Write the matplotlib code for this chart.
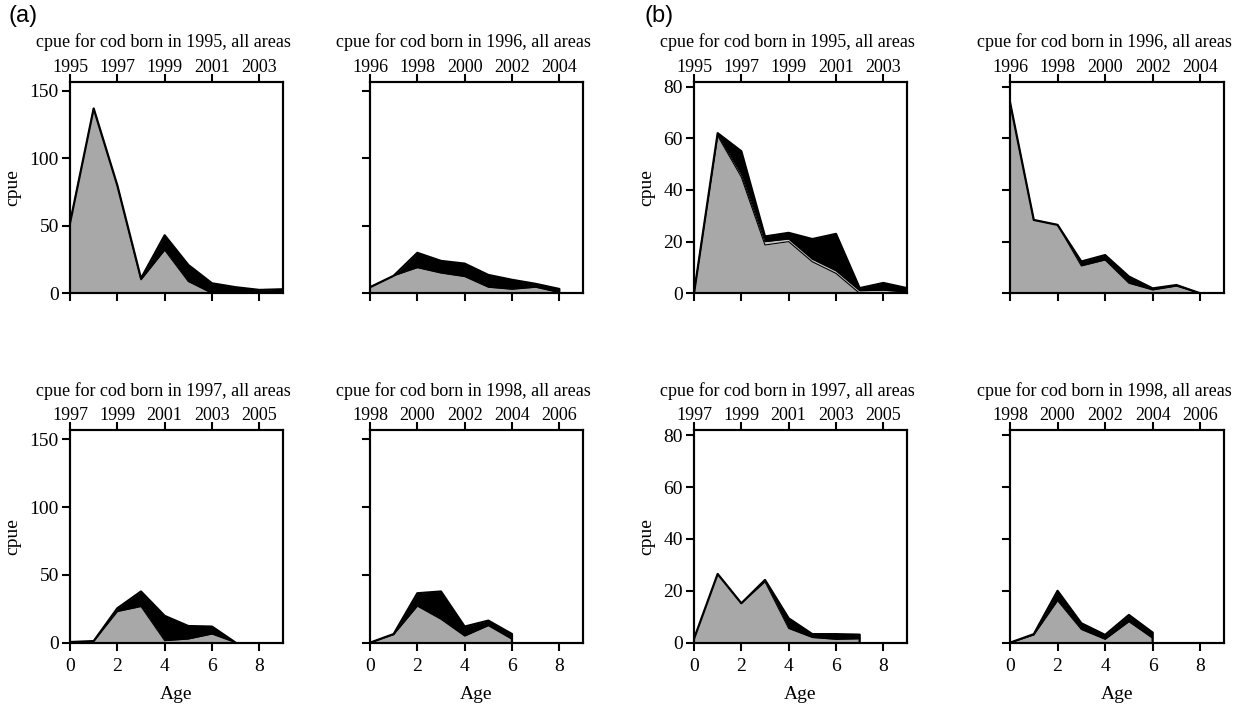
import numpy as np
import matplotlib.pyplot as plt

plt.rcParams['font.family'] = ['Liberation Serif', 'DejaVu Serif']
plt.rcParams['font.size'] = 13

ages = np.arange(10)

# (a) panels: grey layer top and total top, per birth year
a95_grey = [52, 137, 80, 10, 32, 8.7, 0, 0, 0, 0]
a95_total = [52, 137, 80, 11, 43, 21, 7.4, 4.5, 2.5, 3]
a96_grey = [4.5, 13, 19, 15, 12.4, 4.5, 3, 4.5, 0.5]
a96_total = [4.5, 13, 30, 24, 22, 13.6, 10, 7, 3.2]
a97_grey = [0.5, 1, 23, 26.7, 1.5, 2.7, 6.4, 0]
a97_total = [0.5, 1.2, 25.4, 37.8, 19.8, 12.3, 11.9, 0]
a98_grey = [0, 6, 27, 17.3, 4.9, 12.6, 2.5]
a98_total = [0, 6.4, 36.5, 37.8, 11.9, 16.3, 6.4]

# (b) panels
b95_grey = [0, 61, 45, 18.7, 20, 12.2, 7.7, 0, 0.3, 0]
b95_mid = [0, 61.5, 46, 20, 21, 13.2, 8.7, 1, 1.2, 0.5]
b95_total = [0, 62, 55, 22, 23.4, 21, 23, 2, 4, 2]
b96_grey = [74, 28.4, 26.5, 10.6, 12.9, 3.9, 1.3, 2.8, 0]
b96_total = [74, 28.4, 26.5, 12.3, 14.8, 6.5, 1.9, 3.2, 0]
b97_grey = [1.5, 26.5, 15.2, 23.5, 5.5, 2, 1.3, 1.5]
b97_total = [1.5, 26.5, 15.2, 24.2, 9.4, 3.3, 3.3, 3.1]
b98_grey = [0, 3, 16.2, 5.1, 1.3, 8.1, 1.7]
b98_total = [0, 3.3, 20, 7.5, 3, 10.7, 3.9]

W, H = 1246, 705
fig = plt.figure(figsize=(W / 100, H / 100), dpi=100)

cols = [(70, 283), (370, 583), (694, 907), (1010, 1224)]
rows = [(81.5, 293.3), (430, 642.7)]

panels = [
    # col, row, born, grey, mid, total, ymax, yticks
    (0, 0, 1995, a95_grey, None, a95_total, 157, [0, 50, 100, 150]),
    (1, 0, 1996, a96_grey, None, a96_total, 157, [0, 50, 100, 150]),
    (0, 1, 1997, a97_grey, None, a97_total, 157, [0, 50, 100, 150]),
    (1, 1, 1998, a98_grey, None, a98_total, 157, [0, 50, 100, 150]),
    (2, 0, 1995, b95_grey, b95_mid, b95_total, 82, [0, 20, 40, 60, 80]),
    (3, 0, 1996, b96_grey, None, b96_total, 82, [0, 20, 40, 60, 80]),
    (2, 1, 1997, b97_grey, None, b97_total, 82, [0, 20, 40, 60, 80]),
    (3, 1, 1998, b98_grey, None, b98_total, 82, [0, 20, 40, 60, 80]),
]

for c, r, born, grey, mid, total, ymax, yt in panels:
    l, rr = cols[c]
    t, b = rows[r]
    ax = fig.add_axes([l / W, 1 - b / H, (rr - l) / W, (b - t) / H])
    x = ages[:len(total)]
    ax.fill_between(x, 0, grey, color='#a8a8a8', lw=0)
    if mid is not None:
        ax.fill_between(x, grey, mid, color='#c4c4c4', lw=0)
        ax.fill_between(x, mid, total, color='black', lw=0)
        ax.plot(x, mid, color='black', lw=0.8)
    else:
        ax.fill_between(x, grey, total, color='black', lw=0)
    ax.plot(x, grey, color='black', lw=0.8)
    ax.plot(np.r_[x, x[-1]], np.r_[total, 0], color='black', lw=1.6)

    ax.set_xlim(0, 9)
    ax.set_ylim(0, ymax)
    ax.set_yticks(yt)
    ax.set_xticks([0, 2, 4, 6, 8])
    for s in ax.spines.values():
        s.set_linewidth(1.5)
    ax.tick_params(width=1.5, length=6, pad=2, direction='out', labelsize=14)
    ax.tick_params(axis='x', pad=5)
    if c in (1, 3):
        ax.set_yticklabels([])
    else:
        ax.set_ylabel('cpue', labelpad=6, fontsize=14)
    if r == 0:
        ax.set_xticklabels([])
    else:
        ax.set_xlabel('Age', labelpad=8, fontsize=14)

    ax2 = ax.twiny()
    ax2.set_xlim(0, 9)
    ax2.set_xticks([0, 2, 4, 6, 8])
    ax2.set_xticklabels([str(born + k) for k in [0, 2, 4, 6, 8]])
    ax2.tick_params(width=1.5, length=6, pad=-2, direction='out')
    for s in ax2.spines.values():
        s.set_linewidth(1.5)
    ax.text(0.44, 1.0 + 39 / (b - t), 'cpue for cod born in %d, all areas' % born,
            transform=ax.transAxes, ha='center', va='center')

fig.text(8 / W, 1 - 16 / H, '(a)', family='Liberation Sans', fontsize=17, va='center')
fig.text(645 / W, 1 - 16 / H, '(b)', family='Liberation Sans', fontsize=17, va='center')

fig.savefig('out.png', dpi=100)
